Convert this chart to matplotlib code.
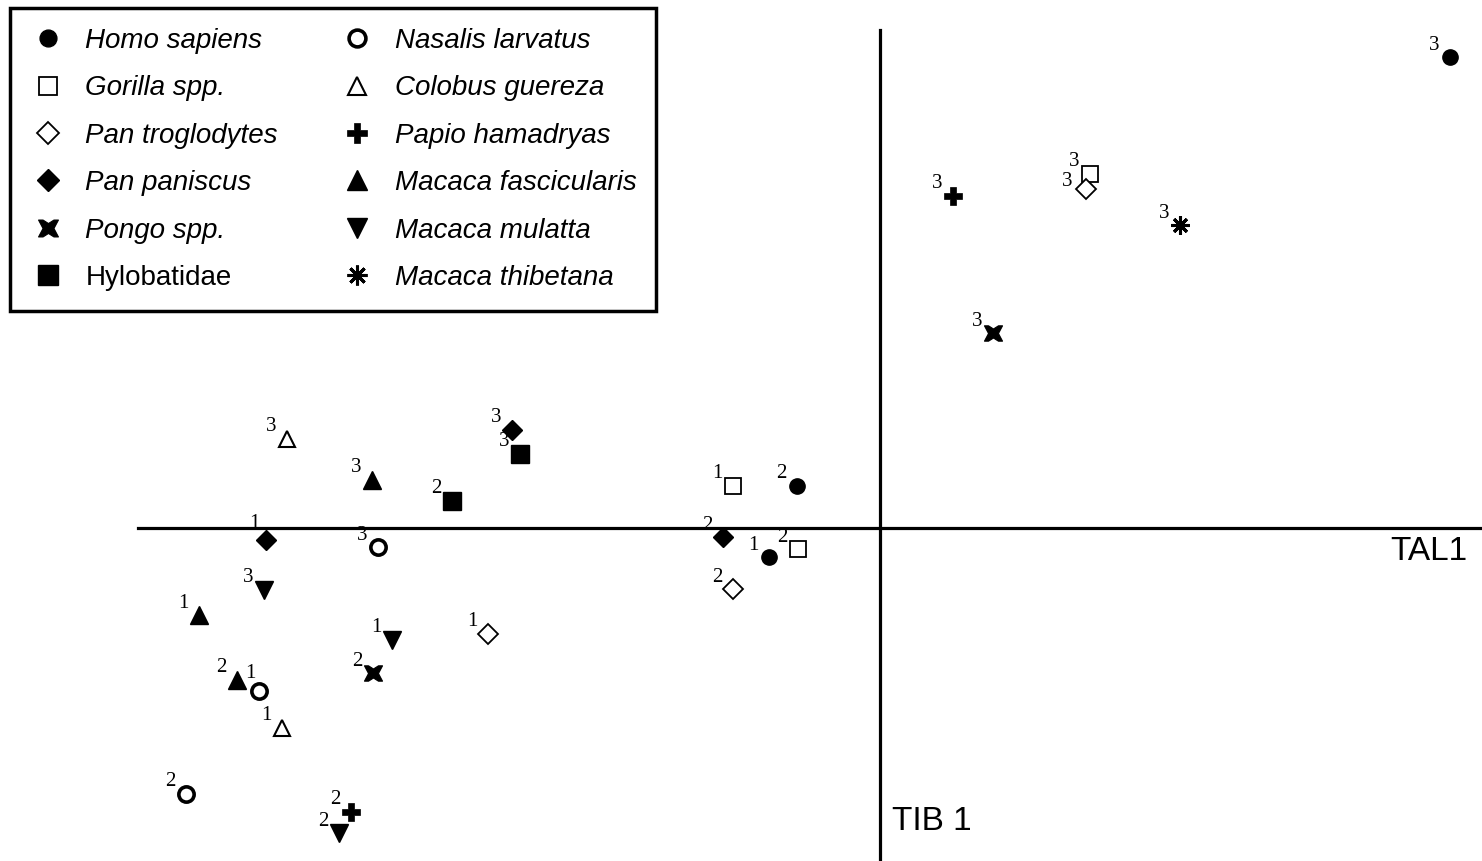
import matplotlib
matplotlib.use("Agg")
import matplotlib.pyplot as plt
from matplotlib.lines import Line2D
from matplotlib.path import Path

# species names (legend order, two columns)
species = ["Homo sapiens", "Gorilla spp.", "Pan troglodytes", "Pan paniscus",
           "Pongo spp.", "Hylobatidae", "Nasalis larvatus", "Colobus guereza",
           "Papio hamadryas", "Macaca fascicularis", "Macaca mulatta",
           "Macaca thibetana"]

# scores on TAL1 (x) and TIB 1 (y), with sample labels
homo_x, homo_y, homo_lab = [-1.11, -0.83, 5.70], [-0.29, 0.42, 4.71], ["1", "2", "3"]
gor_x, gor_y, gor_lab = [-1.47, -0.82, 2.10], [0.42, -0.21, 3.54], ["1", "2", "3"]
ptro_x, ptro_y, ptro_lab = [-3.92, -1.47, 2.06], [-1.06, -0.61, 3.39], ["1", "2", "3"]
ppan_x, ppan_y, ppan_lab = [-6.14, -1.57, -3.68], [-0.12, -0.09, 0.98], ["1", "2", "3"]
pong_x, pong_y, pong_lab = [-5.07, 1.13], [-1.45, 1.95], ["2", "3"]
hylo_x, hylo_y, hylo_lab = [-4.28, -3.60], [0.27, 0.74], ["2", "3"]
nas_x, nas_y, nas_lab = [-6.21, -6.94, -5.02], [-1.63, -2.66, -0.19], ["1", "2", "3"]
col_x, col_y, col_lab = [-5.98, -5.93], [-2.00, 0.89], ["1", "3"]
pap_x, pap_y, pap_lab = [-5.29, 0.73], [-2.84, 3.32], ["2", "3"]
mfas_x, mfas_y, mfas_lab = [-6.81, -6.43, -5.08], [-0.87, -1.52, 0.48], ["1", "2", "3"]
mmul_x, mmul_y, mmul_lab = [-4.88, -5.41, -6.16], [-1.12, -3.05, -0.62], ["1", "2", "3"]
mthi_x, mthi_y, mthi_lab = [3.00], [3.03], ["3"]

series = [(homo_x, homo_y, homo_lab), (gor_x, gor_y, gor_lab),
          (ptro_x, ptro_y, ptro_lab), (ppan_x, ppan_y, ppan_lab),
          (pong_x, pong_y, pong_lab), (hylo_x, hylo_y, hylo_lab),
          (nas_x, nas_y, nas_lab), (col_x, col_y, col_lab),
          (pap_x, pap_y, pap_lab), (mfas_x, mfas_y, mfas_lab),
          (mmul_x, mmul_y, mmul_lab), (mthi_x, mthi_y, mthi_lab)]

# bold X with flat ends and concave sides, for Pongo
spool = Path([(-1, 0.85), (-0.55, 0.85), (0, 0.5), (0.55, 0.85), (1, 0.85),
              (0.55, 0), (1, -0.85), (0.55, -0.85), (0, -0.5),
              (-0.55, -0.85), (-1, -0.85), (-0.55, 0), (-1, 0.85)],
             [Path.MOVETO] + [Path.LINETO] * 11 + [Path.CLOSEPOLY])

# marker, size, face, edge width
styles = [
    dict(marker="o", ms=11, mfc="black", mew=1),
    dict(marker="s", ms=12, mfc="white", mew=1.3),
    dict(marker="D", ms=10, mfc="white", mew=1.3),
    dict(marker="D", ms=10, mfc="black", mew=1),
    dict(marker=spool, ms=13, mfc="black", mew=0.8),
    dict(marker="s", ms=13, mfc="black", mew=1),
    dict(marker="o", ms=11, mfc="white", mew=2.6),
    dict(marker="^", ms=12, mfc="white", mew=1.5),
    dict(marker="P", ms=13, mfc="black", mew=0.5),
    dict(marker="^", ms=13, mfc="black", mew=1),
    dict(marker="v", ms=13, mfc="black", mew=1),
    dict(marker=(8, 2, 0), ms=13, mfc="black", mew=2.2),
]

# label nudges (pixels) where the default spot differs
nudge = {(2, "3"): (-19, 7), (3, "1"): (-12, 16), (6, "1"): (-9, 18)}

fig = plt.figure(figsize=(14.82, 8.61), dpi=100)
ax = fig.add_axes([0, 0, 1, 1])
ax.set_xlim(-8.80, 6.02)
ax.set_ylim(-3.33, 5.28)
ax.axis("off")

# axis lines
ax.plot([-7.42, 6.02], [0, 0], color="black", lw=2.3, zorder=1)
ax.plot([0, 0], [-3.33, 4.98], color="black", lw=2.3, zorder=1)
ax.text(5.87, -0.24, "TAL1", fontsize=24, family="Liberation Sans",
        ha="right", va="center")
ax.text(0.12, -2.94, "TIB 1", fontsize=24, family="Liberation Sans",
        ha="left", va="center")

handles = []
for i, ((xs, ys, labs), st) in enumerate(zip(series, styles)):
    ax.plot(xs, ys, ls="none", color="black", mec="black", zorder=3, **st)
    for x, y, lab in zip(xs, ys, labs):
        ax.annotate(lab, (x, y), xytext=nudge.get((i, lab), (-16, 12)),
                    textcoords="offset pixels", ha="center", va="center",
                    fontsize=15, family="Liberation Serif")
    handles.append(Line2D([], [], ls="none", color="black", mec="black", **st))

leg = ax.legend(handles, species, ncol=2, loc="upper left",
                bbox_to_anchor=(0.0067, 0.9907), borderaxespad=0,
                frameon=True, fancybox=False, framealpha=1,
                prop=dict(family="Liberation Sans", size=20),
                labelspacing=0.77, handletextpad=0.7, columnspacing=2.2,
                borderpad=0.72, handlelength=1.3, markerscale=1.1)
leg.get_frame().set_edgecolor("black")
leg.get_frame().set_linewidth(2.5)
for t in leg.get_texts():
    if t.get_text() != "Hylobatidae":
        t.set_style("italic")

fig.savefig("out.png", dpi=100)
